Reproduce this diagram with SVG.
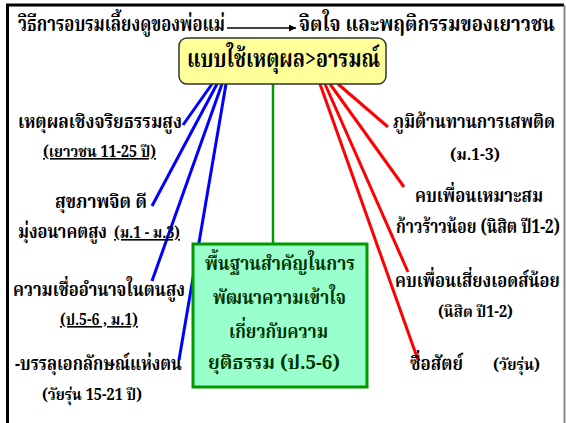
<svg xmlns="http://www.w3.org/2000/svg" width="566" height="423" viewBox="0 0 566 423">
<defs>
<style>
text{font-family:"Noto Serif Thai","Noto Sans Thai","Liberation Serif",serif;font-weight:bold;fill:#000;}
.t{font-size:21px;}
.l{font-size:19px;}
.s{font-size:16px;}
.u{text-decoration:underline;}
.g{font-size:20px;fill:#003300;}
.blue{stroke:#0000ff;stroke-width:3;fill:none;}
.red{stroke:#ff0000;stroke-width:3;fill:none;}
</style>
<marker id="ah" viewBox="0 0 10 10" refX="10" refY="5" markerWidth="7" markerHeight="7" markerUnits="userSpaceOnUse" orient="auto">
<path d="M0,0 L10,5 L0,10 z" fill="#000"/>
</marker>
</defs>
<rect x="0" y="0" width="566" height="423" fill="#fff"/>
<g id="frame">
<path d="M7.5,430 V5 H564" stroke="#000" stroke-width="3" fill="none"/>
<path d="M564.5,5 V423" stroke="#888" stroke-width="2" fill="none"/>
</g>
<g id="title">
<text class="t" x="18" y="31" textLength="207" lengthAdjust="spacingAndGlyphs">วิธีการอบรมเลี้ยงดูของพ่อแม่</text>
<line x1="227" y1="28" x2="296" y2="28" stroke="#000" stroke-width="1.5" marker-end="url(#ah)"/>
<text class="t" transform="translate(299,31) scale(0.85,1)" x="0" y="0" textLength="301" lengthAdjust="spacingAndGlyphs">จิตใจ และพฤติกรรมของเยาวชน</text>
</g>
<g id="connectors">
<line x1="273" y1="84" x2="273" y2="244" stroke="#009900" stroke-width="2.5"/>
<line class="blue" x1="212" y1="84" x2="183" y2="125"/>
<line class="blue" x1="217" y1="84" x2="152" y2="206"/>
<line class="blue" x1="222" y1="84" x2="152" y2="281"/>
<line class="blue" x1="226" y1="84" x2="179" y2="360"/>
<line class="red" x1="338" y1="84" x2="388" y2="127"/>
<line class="red" x1="330" y1="84" x2="404" y2="187"/>
<line class="red" x1="325" y1="84" x2="408" y2="272"/>
<line class="red" x1="320" y1="84" x2="418" y2="360"/>
</g>
<g id="root">
<rect x="179" y="38" width="207" height="46" rx="8" fill="#ffff99" stroke="#333" stroke-width="1.5"/>
<text x="187" y="67" style="font-size:24px" textLength="193" lengthAdjust="spacingAndGlyphs">แบบใช้เหตุผล&gt;อารมณ์</text>
</g>
<g id="center">
<rect x="193" y="244" width="174" height="143" fill="#99ffcc" stroke="#009900" stroke-width="3"/>
<text class="g" x="205" y="270" textLength="150" lengthAdjust="spacingAndGlyphs">พื้นฐานสำคัญในการ</text>
<text class="g" x="213" y="304" textLength="133" lengthAdjust="spacingAndGlyphs">พัฒนาความเข้าใจ</text>
<text class="g" x="229" y="338" textLength="99" lengthAdjust="spacingAndGlyphs">เกี่ยวกับความ</text>
<text class="g" x="208" y="369" textLength="132" lengthAdjust="spacingAndGlyphs">ยุติธรรม (ป.5-6)</text>
</g>
<g id="left1">
<text class="l" x="18" y="128" textLength="164" lengthAdjust="spacingAndGlyphs">เหตุผลเชิงจริยธรรมสูง</text>
<text class="s u" x="43" y="157" textLength="113" lengthAdjust="spacingAndGlyphs">(เยาวชน 11-25 ปี)</text>
</g>
<g id="left2">
<text class="l" x="55" y="208" textLength="92" lengthAdjust="spacingAndGlyphs">สุขภาพจิต ดี</text>
<text class="l" x="18" y="238" textLength="89" lengthAdjust="spacingAndGlyphs">มุ่งอนาคตสูง</text>
<text class="s u" x="114" y="238" textLength="66" lengthAdjust="spacingAndGlyphs">(ม.1 - ม.3)</text>
</g>
<g id="left3">
<text class="l" x="13" y="296" textLength="172" lengthAdjust="spacingAndGlyphs">ความเชื่ออำนาจในตนสูง</text>
<text class="s u" x="60" y="325" textLength="78" lengthAdjust="spacingAndGlyphs">(ป.5-6 , ม.1)</text>
</g>
<g id="left4">
<text class="l" x="15" y="370" textLength="167" lengthAdjust="spacingAndGlyphs">-บรรลุเอกลักษณ์แห่งตน</text>
<text class="s" x="42" y="400" textLength="100" lengthAdjust="spacingAndGlyphs">(วัยรุ่น 15-21 ปี)</text>
</g>
<g id="right1">
<text class="l" transform="translate(393,128) scale(0.85,1)" x="0" y="0" textLength="190.6" lengthAdjust="spacingAndGlyphs">ภูมิต้านทานการเสพติด</text>
<text class="s" x="450" y="160" textLength="50" lengthAdjust="spacingAndGlyphs">(ม.1-3)</text>
</g>
<g id="right2">
<text class="l" x="415" y="202" textLength="128" lengthAdjust="spacingAndGlyphs">คบเพื่อนเหมาะสม</text>
<text class="l" transform="translate(396,233) scale(0.82,1)" x="0" y="0" textLength="200" lengthAdjust="spacingAndGlyphs">ก้าวร้าวน้อย (นิสิต ปี1-2)</text>
</g>
<g id="right3">
<text class="l" transform="translate(395,287) scale(0.82,1)" x="0" y="0" textLength="201" lengthAdjust="spacingAndGlyphs">คบเพื่อนเสี่ยงเอดส์น้อย</text>
<text class="s" x="438" y="317" textLength="75" lengthAdjust="spacingAndGlyphs">(นิสิต ปี1-2)</text>
</g>
<g id="right4">
<text class="l" x="410" y="370" textLength="53" lengthAdjust="spacingAndGlyphs">ซื่อสัตย์</text>
<text class="s" x="493" y="370" textLength="47" lengthAdjust="spacingAndGlyphs">(วัยรุ่น)</text>
</g>
</svg>
